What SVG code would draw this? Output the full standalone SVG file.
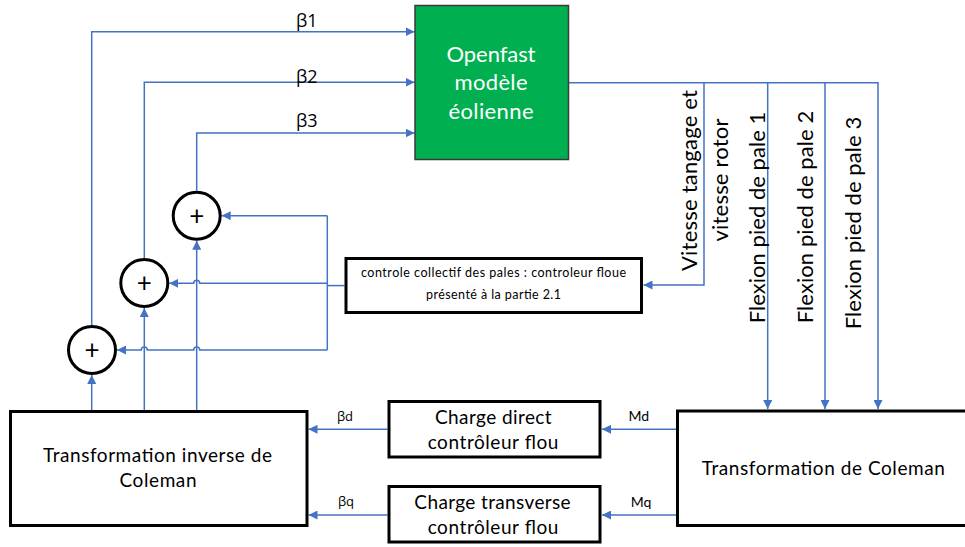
<svg xmlns="http://www.w3.org/2000/svg" width="965" height="547" viewBox="0 0 965 547">
<style>
.box{fill:#fff;stroke:#000;stroke-width:3}
.t{font-family:Lato,"Open Sans","Liberation Sans",sans-serif;fill:#000;text-anchor:middle}
.g{font-family:"Open Sans",Lato,"Liberation Sans",sans-serif;fill:#000;text-anchor:middle}
.w{fill:#fff}
.c{fill:none;stroke:#4472C4;stroke-width:1.5}
.a{marker-end:url(#ah)}
</style>
<defs>
<marker id="ah" viewBox="0 0 9 9" refX="9" refY="4.5" markerWidth="9" markerHeight="9" markerUnits="userSpaceOnUse" orient="auto">
<path d="M0,0 L9,4.5 L0,9 z" fill="#4472C4"/>
</marker>
</defs>
<rect width="965" height="547" fill="#fff"/>

<g id="connectors">
<path class="c a" d="M91.7,410 V375"/>
<path class="c a" d="M91.7,325 V31.7 H414.5"/>
<path class="c a" d="M144.3,410 V308"/>
<path class="c a" d="M144.3,258 V82.3 H414.5"/>
<path class="c a" d="M196.7,410 V240.7"/>
<path class="c a" d="M196.7,190.7 V133 H414.5"/>
<path class="c" d="M344.5,285.6 H327.3"/>
<path class="c" d="M327.3,215.7 V350"/>
<path class="c a" d="M327.3,215.7 H221.7"/>
<path class="c a" d="M327.3,283.3 H199.7 a3,3 0 0 0 -6,0 H169.3"/>
<path class="c a" d="M327.3,350 H199.7 a3,3 0 0 0 -6,0 H147.3 a3,3 0 0 0 -6,0 H117"/>
<path class="c a" d="M569,82.7 H878 V409"/>
<path class="c a" d="M704,82.7 V285 H643.5"/>
<path class="c a" d="M767.7,82.7 V409"/>
<path class="c a" d="M825,82.7 V409"/>
<path class="c a" d="M676,429.3 H602"/>
<path class="c a" d="M676,515 H602"/>
<path class="c a" d="M387.5,429.3 H308.5"/>
<path class="c a" d="M387.5,515 H308.5"/>
<text class="g" x="306.7" y="26.7" font-size="18">β1</text>
<text class="g" x="306.7" y="82.5" font-size="18">β2</text>
<text class="g" x="306.7" y="127.3" font-size="18">β3</text>
<text class="g" x="345" y="420.7" font-size="13">βd</text>
<text class="g" x="346" y="506" font-size="13">βq</text>
<text class="t" x="638.7" y="420.7" font-size="14">Md</text>
<text class="t" x="641" y="506.7" font-size="14">Mq</text>
<text class="t" transform="translate(697,180.5) rotate(-90)" font-size="22" textLength="181">Vitesse tangage et</text>
<text class="t" transform="translate(728,180) rotate(-90)" font-size="22" textLength="123">vitesse rotor</text>
<text class="t" transform="translate(765,217.5) rotate(-90)" font-size="22" textLength="211.6">Flexion pied de pale 1</text>
<text class="t" transform="translate(812.7,217) rotate(-90)" font-size="22" textLength="212.6">Flexion pied de pale 2</text>
<text class="t" transform="translate(861,223) rotate(-90)" font-size="22" textLength="212.6">Flexion pied de pale 3</text>
</g>

<g id="openfast">
<rect x="415" y="5.5" width="153.5" height="154" fill="#00B050" stroke="#3a3a3a" stroke-width="1.5"/>
<text class="t w" x="491" y="61.7" font-size="22" textLength="89">Openfast</text>
<text class="t w" x="491" y="90" font-size="22" textLength="73">modèle</text>
<text class="t w" x="491" y="119.3" font-size="22" textLength="85">éolienne</text>
</g>

<g id="sum1">
<circle cx="196.7" cy="215.7" r="23.5" fill="#fff" stroke="#000" stroke-width="3"/>
<text class="t" x="196.7" y="224.5" font-size="26">+</text>
</g>
<g id="sum2">
<circle cx="144.3" cy="283" r="23.5" fill="#fff" stroke="#000" stroke-width="3"/>
<text class="t" x="144.3" y="291.8" font-size="26">+</text>
</g>
<g id="sum3">
<circle cx="92" cy="350" r="23.5" fill="#fff" stroke="#000" stroke-width="3"/>
<text class="t" x="92" y="358.8" font-size="26">+</text>
</g>

<g id="collectif">
<rect class="box" x="346" y="258.5" width="295.5" height="54" stroke-width="3.5"/>
<text class="t" x="493.5" y="276.7" font-size="12.5" textLength="265">controle collectif des pales : controleur floue</text>
<text class="t" x="493.5" y="299.3" font-size="12.5" textLength="135">présenté à la partie 2.1</text>
</g>

<g id="inverse-coleman">
<rect class="box" x="10.5" y="411.5" width="296.5" height="114"/>
<text class="t" x="157.5" y="461.7" font-size="19" textLength="229">Transformation inverse de</text>
<text class="t" x="158" y="487.3" font-size="19" textLength="77">Coleman</text>
</g>

<g id="charge-direct">
<rect class="box" x="389" y="401.5" width="211" height="55.5"/>
<text class="t" x="493.3" y="424.3" font-size="19" textLength="116.7">Charge direct</text>
<text class="t" x="493" y="449.3" font-size="19" textLength="130.7">contrôleur flou</text>
</g>

<g id="charge-transverse">
<rect class="box" x="389" y="486.5" width="211" height="55.5"/>
<text class="t" x="492.5" y="509" font-size="19" textLength="156.3">Charge transverse</text>
<text class="t" x="493" y="534.3" font-size="19" textLength="130.7">contrôleur flou</text>
</g>

<g id="coleman">
<rect class="box" x="677.5" y="411" width="300" height="114.5"/>
<text class="t" x="823.3" y="475" font-size="19" textLength="243">Transformation de Coleman</text>
</g>
</svg>
